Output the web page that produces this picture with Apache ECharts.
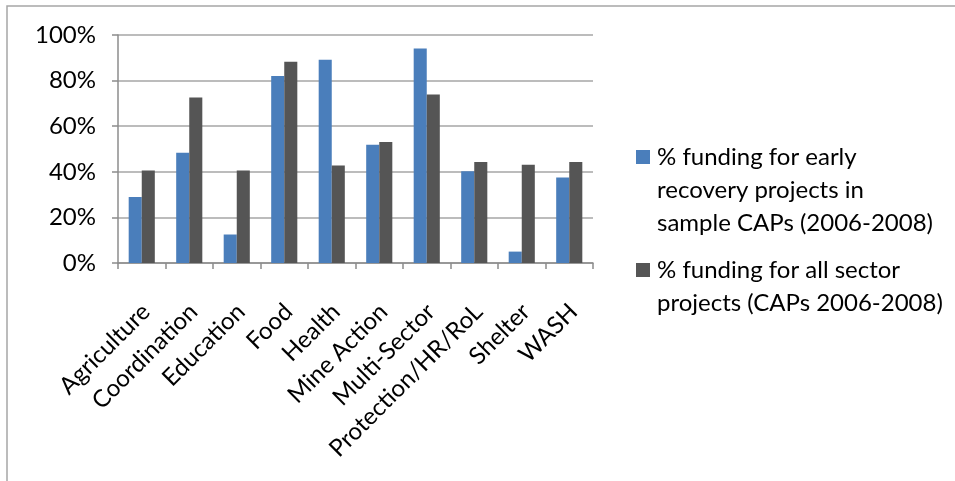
<!DOCTYPE html>
<html>
<head>
<meta charset="utf-8">
<script src="https://cdn.jsdelivr.net/npm/echarts@6/dist/echarts.min.js"></script>
<style>
  html, body { margin: 0; padding: 0; background: #ffffff; }
  #chart { width: 955px; height: 481px; }
</style>
</head>
<body>
<div id="chart"></div>
<script>
// Sectors on the category axis
const sectors = ['Agriculture', 'Coordination', 'Education', 'Food', 'Health',
  'Mine Action', 'Multi-Sector', 'Protection/HR/RoL', 'Shelter', 'WASH'];

// Share of requirements funded (%)
const earlyRecovery = [28.9, 48.4, 12.5, 82.0, 89.1, 51.9, 94.1, 40.2, 5.0, 37.5];
const allSectors = [40.6, 72.6, 40.6, 88.3, 42.8, 53.1, 73.9, 44.3, 43.1, 44.3];

// Series names and their wrapped legend text
const seriesNames = [
  '% funding for early recovery projects in sample CAPs (2006-2008)',
  '% funding for all sector projects (CAPs 2006-2008)'
];
const legendLines = [
  ['% funding for early', 'recovery projects in', 'sample CAPs (2006-2008)'],
  ['% funding for all sector', 'projects (CAPs 2006-2008)']
];
const seriesColors = ['#4a7ebb', '#555555'];

const FONT = 'Lato';
const FONT_SIZE = 24;
const LINE_H = 33;

// Legend: a swatch beside the first line of each wrapped entry
const legendX = 636;
const legendFirstLineY = [157, 270];
const legendGraphics = [];
legendLines.forEach(function (lines, i) {
  legendGraphics.push({
    type: 'rect',
    shape: { x: legendX, y: legendFirstLineY[i] - 7, width: 14, height: 14 },
    style: { fill: seriesColors[i] },
    silent: true
  });
  legendGraphics.push({
    type: 'text',
    x: legendX + 21,
    y: legendFirstLineY[i] - LINE_H / 2,
    style: {
      text: lines.join('\n'),
      font: FONT_SIZE + 'px ' + FONT,
      lineHeight: LINE_H,
      fill: '#000000',
      align: 'left',
      verticalAlign: 'top'
    },
    silent: true
  });
});

const chart = echarts.init(document.getElementById('chart'), null, { renderer: 'canvas' });

chart.setOption({
  animation: false,
  backgroundColor: '#ffffff',
  textStyle: { fontFamily: FONT },
  graphic: [{
    type: 'rect',
    shape: { x: 7, y: 6, width: 1000, height: 600 },
    style: { fill: 'none', stroke: '#a6a6a6', lineWidth: 1.5 },
    silent: true,
    z: -1
  }].concat(legendGraphics),
  grid: { left: 118, right: 362, top: 35, bottom: 218, containLabel: false },
  xAxis: {
    type: 'category',
    data: sectors,
    axisLine: { lineStyle: { color: '#8c8c8c', width: 1.5 } },
    axisTick: { show: true, length: 6, lineStyle: { color: '#8c8c8c', width: 1.5 } },
    axisLabel: {
      rotate: 45,
      interval: 0,
      margin: 49,
      padding: [0, -6, 0, 0],
      fontFamily: FONT,
      fontSize: FONT_SIZE,
      color: '#000000'
    }
  },
  yAxis: {
    type: 'value',
    min: 0,
    max: 100,
    interval: 20,
    axisLine: { show: true, lineStyle: { color: '#8c8c8c', width: 1.5 } },
    axisTick: { show: true, length: 6, lineStyle: { color: '#8c8c8c', width: 1.5 } },
    splitLine: { show: true, lineStyle: { color: '#a6a6a6', width: 1.5 } },
    axisLabel: {
      formatter: '{value}%',
      margin: 22,
      fontFamily: FONT,
      fontSize: FONT_SIZE,
      color: '#000000'
    }
  },
  series: [
    {
      name: seriesNames[0],
      type: 'bar',
      data: earlyRecovery,
      barGap: '0%',
      barCategoryGap: '45%',
      itemStyle: { color: seriesColors[0] }
    },
    {
      name: seriesNames[1],
      type: 'bar',
      data: allSectors,
      barGap: '0%',
      barCategoryGap: '45%',
      itemStyle: { color: seriesColors[1] }
    }
  ]
});
</script>
</body>
</html>
